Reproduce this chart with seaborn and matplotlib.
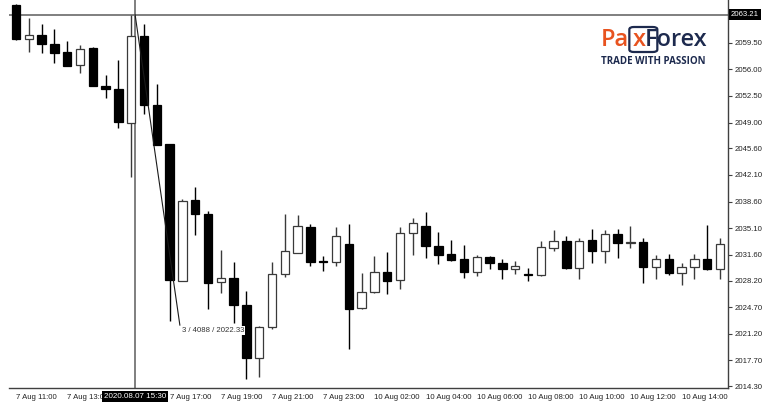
import matplotlib
matplotlib.use("Agg")
import matplotlib.pyplot as plt
from matplotlib.patches import FancyBboxPatch
import numpy as np
import seaborn as sns

# 30-minute candles, 7 Aug 11:00 -> 10 Aug 14:30
opens = [2064.46, 2059.95, 2060.55, 2059.37, 2058.24, 2056.53, 2058.84, 2053.84, 2053.37, 2048.98,
         2060.42, 2051.34, 2046.21, 2028.15, 2038.81, 2037.01, 2027.98, 2028.59, 2025.00, 2017.98,
         2022.14, 2029.03, 2031.80, 2035.30, 2030.75, 2030.65, 2033.02, 2024.56, 2026.67, 2029.34,
         2028.24, 2034.43, 2035.35, 2032.80, 2031.67, 2031.01, 2029.38, 2031.31, 2030.56, 2029.69,
         2029.08, 2028.94, 2032.45, 2033.41, 2029.90, 2033.51, 2032.06, 2034.37, 2033.11, 2033.32,
         2029.95, 2031.09, 2029.17, 2030.03, 2031.01, 2029.69]
highs = [2064.60, 2062.79, 2061.92, 2061.26, 2059.68, 2059.20, 2058.97, 2055.29, 2057.18, 2063.21,
         2061.92, 2054.07, 2046.21, 2038.98, 2040.52, 2037.40, 2032.23, 2030.69, 2026.90, 2022.20,
         2030.69, 2036.97, 2036.83, 2035.69, 2031.40, 2035.22, 2035.69, 2029.21, 2031.40, 2031.97,
         2035.30, 2036.40, 2037.23, 2034.64, 2033.59, 2032.89, 2031.53, 2031.44, 2031.09, 2030.78,
         2029.82, 2033.41, 2034.86, 2034.11, 2033.85, 2034.99, 2034.82, 2034.99, 2035.35, 2033.81,
         2031.53, 2031.67, 2030.48, 2031.67, 2035.52, 2033.77]
lows = [2059.85, 2058.32, 2058.18, 2056.87, 2056.40, 2055.55, 2053.75, 2052.19, 2048.32, 2041.79,
        2050.12, 2046.04, 2022.89, 2028.10, 2034.20, 2024.43, 2026.61, 2022.67, 2015.33, 2015.49,
        2021.80, 2028.72, 2031.80, 2030.13, 2029.43, 2030.17, 2019.17, 2024.50, 2026.60, 2026.40,
        2027.14, 2031.53, 2031.22, 2030.43, 2030.85, 2028.59, 2028.85, 2029.77, 2028.42, 2029.03,
        2028.15, 2028.77, 2032.06, 2029.80, 2028.38, 2030.56, 2030.56, 2031.14, 2032.53, 2027.89,
        2028.46, 2028.94, 2027.67, 2028.38, 2029.60, 2028.42]
closes = [2059.99, 2060.55, 2059.33, 2058.11, 2056.44, 2058.71, 2053.80, 2053.37, 2049.07, 2060.38,
          2051.27, 2046.08, 2028.28, 2038.72, 2036.97, 2027.85, 2028.59, 2025.00, 2017.98, 2022.14,
          2029.03, 2032.10, 2035.43, 2030.65, 2030.65, 2034.07, 2024.43, 2026.67, 2029.34, 2028.11,
          2034.47, 2035.82, 2032.72, 2031.57, 2030.92, 2029.38, 2031.27, 2030.56, 2029.69, 2030.13,
          2029.00, 2032.59, 2033.41, 2029.86, 2033.41, 2032.14, 2034.37, 2033.11, 2033.32, 2029.99,
          2031.09, 2029.17, 2030.03, 2031.01, 2029.77, 2032.98]

# the 15:00 label sits under the crosshair time box, so it is left blank
tick_pos = [0, 4, 8, 12, 16, 20, 24, 28, 32, 36, 40, 44, 48, 52]
tick_labels = ["7 Aug 11:00", "7 Aug 13:00", "", "7 Aug 17:00", "7 Aug 19:00",
               "7 Aug 21:00", "7 Aug 23:00", "10 Aug 02:00", "10 Aug 04:00", "10 Aug 06:00",
               "10 Aug 08:00", "10 Aug 10:00", "10 Aug 12:00", "10 Aug 14:00"]
price_ticks = [2059.50, 2056.00, 2052.50, 2049.00, 2045.60, 2042.10, 2038.60, 2035.10,
               2031.60, 2028.20, 2024.70, 2021.20, 2017.70, 2014.30]

cross_time = "2020.08.07 15:30"
cross_pos = 9.3
cross_price = 2063.21
ruler_end = 12.8
ruler_price = 2022.33
ruler_text = "3 / 4088 / 2022.33"

sns.set_theme(style="white")
plt.rcParams["font.family"] = ["Liberation Sans", "DejaVu Sans"]

fig = plt.figure(figsize=(7.7, 4.04), dpi=100)
ax = fig.add_axes([9 / 770, 16.3 / 404, 719 / 770, 387.7 / 404])

o = np.array(opens)
c = np.array(closes)
x = np.arange(len(o))
up = c >= o
bull = "#3a3a3a"
bear = "#000000"

ax.vlines(x[up], np.array(lows)[up], np.array(highs)[up], colors=bull, lw=1.0, zorder=2)
ax.vlines(x[~up], np.array(lows)[~up], np.array(highs)[~up], colors=bear, lw=1.0, zorder=2)
ax.bar(x[up], (c - o)[up], bottom=o[up], width=0.66, color="white", edgecolor=bull, lw=0.9, zorder=3)
ax.bar(x[~up], (o - c)[~up], bottom=c[~up], width=0.66, color=bear, edgecolor=bear, lw=0.9, zorder=3)

ax.set_xlim(-0.55, 55.62)
ax.set_ylim(2014.12, 2065.12)

# crosshair
ax.axhline(cross_price, color="#7f7f7f", lw=1.4, zorder=1)
ax.axvline(cross_pos, color="#7f7f7f", lw=1.4, zorder=1)
ax.plot([cross_pos, ruler_end], [cross_price, ruler_price], color="#1a1a1a", lw=0.8, zorder=4)
ax.annotate(ruler_text, xy=(ruler_end, ruler_price), xytext=(2, -5), textcoords="offset pixels",
            fontsize=5.6, color="#333333", ha="left", va="center", zorder=5,
            bbox=dict(boxstyle="square,pad=0.1", fc="white", ec="none"))

sns.despine(ax=ax, left=True, top=True, right=False, bottom=False)
for s in ["right", "bottom"]:
    ax.spines[s].set_color("#404040")
    ax.spines[s].set_linewidth(1.0)

ax.yaxis.tick_right()
ax.set_yticks(price_ticks)
ax.set_yticklabels([f"{p:.2f}" for p in price_ticks])
ax.tick_params(axis="y", direction="out", length=3, width=0.8, color="#404040",
               labelsize=5.6, pad=1.5, labelcolor="#222222")
ax.set_xticks(tick_pos)
ax.set_xticklabels(tick_labels, ha="left")
ax.tick_params(axis="x", direction="out", length=3, width=0.8, color="#404040",
               labelsize=5.6, pad=1.5, labelcolor="#222222")
ax.grid(False)

# crosshair labels
ax.annotate(cross_time, xy=(cross_pos, 0), xycoords=("data", "axes fraction"),
            xytext=(0, -9), textcoords="offset pixels", ha="center", va="center",
            fontsize=5.8, color="white", zorder=10, annotation_clip=False,
            bbox=dict(boxstyle="square,pad=0.25", fc="black", ec="none"))
ax.annotate(f"{cross_price:.2f}", xy=(1, cross_price), xycoords=("axes fraction", "data"),
            xytext=(3, 0), textcoords="offset pixels", ha="left", va="center",
            fontsize=5.6, color="white", zorder=10, annotation_clip=False,
            bbox=dict(boxstyle="square,pad=0.2", fc="black", ec="none"))

# logo
orange = "#e8531f"
navy = "#1d2a4e"
logo_font = ["Open Sans", "DejaVu Sans"]
fig.canvas.draw()
r = fig.canvas.get_renderer()
lx, ly = 601 / 770, 1 - 40 / 404
t1 = fig.text(lx, ly, "Pa", color=orange, fontsize=17, fontweight="semibold",
              family=logo_font, va="center", ha="left")
bb = t1.get_window_extent(r)
t2 = fig.text(bb.x1 / 770 + 0.004, ly, "x", color=orange, fontsize=17, fontweight="semibold",
              family=logo_font, va="center", ha="left")
bb2 = t2.get_window_extent(r)
t3 = fig.text(bb2.x1 / 770 - 0.001, ly, "Forex", color=navy, fontsize=17, fontweight="semibold",
              family=logo_font, va="center", ha="left")
box = FancyBboxPatch(((bb2.x0 - 3) / 770, 352 / 404), 28 / 770, 25 / 404,
                     boxstyle="round,pad=0,rounding_size=0.006", transform=fig.transFigure,
                     fc="none", ec=navy, lw=1.6)
fig.patches.append(box)
fig.text(601 / 770, 1 - 62 / 404, "TRADE WITH PASSION", color=navy, fontsize=7,
         fontweight="bold", family=logo_font, va="center", ha="left")

fig.savefig("out.png", dpi=100, facecolor="white")
